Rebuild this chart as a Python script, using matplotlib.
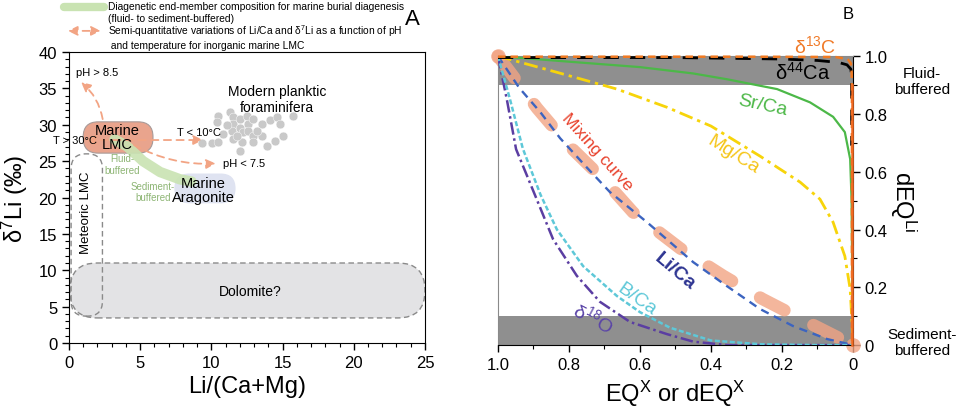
import numpy as np
import matplotlib
matplotlib.use("Agg")
import matplotlib.pyplot as plt
from matplotlib.patches import FancyBboxPatch, FancyArrowPatch
from matplotlib.lines import Line2D
from matplotlib.ticker import MultipleLocator

plt.rcParams['font.family'] = ['Liberation Sans', 'DejaVu Sans']
plt.rcParams['mathtext.fontset'] = 'custom'
plt.rcParams['mathtext.rm'] = 'Liberation Sans'
plt.rcParams['mathtext.it'] = 'Liberation Sans:italic'
plt.rcParams['mathtext.bf'] = 'Liberation Sans:bold'

# ---------------- panel A data ----------------
foram_x = [9.32, 10.02, 10.49, 10.37, 10.79, 11.31, 11.54, 11.54, 11.42, 12.01, 12.01, 12.24,
           12.48, 12.59, 12.59, 12.13, 12.01, 12.94, 12.94, 13.53, 13.53, 13.88, 14.12, 14.58,
           14.82, 14.47, 15.05, 15.75, 11.54, 13.18, 11.07, 11.78, 12.94, 10.49]
foram_y = [27.5, 27.5, 31.2, 30.4, 28.7, 31.7, 31.0, 30.1, 29.2, 30.8, 29.6, 29.0,
           31.2, 30.1, 29.2, 27.6, 26.4, 30.8, 28.5, 30.1, 28.5, 27.1, 30.6, 31.0,
           30.1, 27.8, 28.4, 31.2, 28.0, 29.2, 29.9, 28.5, 27.6, 27.6]

# burial diagenesis path (fluid- to sediment-buffered)
diag_x = [3.2, 4.1, 5.2, 6.4, 7.8, 8.6]
diag_y = [28.0, 27.0, 25.0, 23.5, 22.5, 22.2]

# field extents: x0, x1, y0, y1
lmc_box = [1.0, 5.9, 26.1, 30.4]
arag_box = [7.4, 11.7, 19.2, 23.3]
meteoric_box = [0.15, 2.35, 3.7, 26.0]
dolomite_box = [0.07, 25.0, 3.45, 11.0]

# ---------------- panel B data ----------------
li_x = [1.0, 0.94, 0.88, 0.825, 0.75, 0.685, 0.58, 0.45, 0.355, 0.262, 0.169, 0.073, 0.0]
li_y = [1.0, 0.89, 0.805, 0.716, 0.615, 0.53, 0.425, 0.287, 0.204, 0.125, 0.066, 0.021, 0.0]

mix_x = [1.0, 0.966, 0.89, 0.80, 0.70, 0.62, 0.487, 0.366, 0.254, 0.121, 0.0]
mix_y = [1.0, 0.945, 0.82, 0.69, 0.57, 0.46, 0.335, 0.24, 0.159, 0.075, 0.0]

sr_x = [1.0, 0.834, 0.6, 0.45, 0.355, 0.214, 0.121, 0.056, 0.023, 0.008, 0.004, 0.002, 0.0]
sr_y = [1.0, 0.984, 0.962, 0.94, 0.92, 0.886, 0.84, 0.79, 0.737, 0.644, 0.5, 0.2, 0.0]

mg_x = [1.0, 0.834, 0.665, 0.524, 0.40, 0.262, 0.149, 0.093, 0.056, 0.023, 0.008, 0.003, 0.0]
mg_y = [1.0, 0.944, 0.886, 0.823, 0.758, 0.654, 0.564, 0.505, 0.425, 0.308, 0.194, 0.08, 0.0]

b_x = [1.0, 0.966, 0.93, 0.88, 0.834, 0.76, 0.665, 0.60, 0.515, 0.40, 0.26, 0.1, 0.0]
b_y = [1.0, 0.85, 0.68, 0.52, 0.40, 0.273, 0.17, 0.114, 0.06, 0.016, 0.003, 0.0, 0.0]

o_x = [1.0, 0.975, 0.949, 0.891, 0.845, 0.778, 0.713, 0.628, 0.524, 0.45, 0.355, 0.0]
o_y = [1.0, 0.85, 0.678, 0.505, 0.367, 0.24, 0.15, 0.08, 0.038, 0.012, 0.0, 0.0]

ca_x = [1.0, 0.5, 0.2, 0.1, 0.04, 0.017, 0.006, 0.004, 0.004]
ca_y = [0.995, 0.995, 0.99, 0.985, 0.978, 0.97, 0.955, 0.93, 0.69]

c_x = [1.0, 0.3, 0.05, 0.015, 0.006, 0.004, 0.003, 0.003]
c_y = [0.998, 0.998, 0.997, 0.99, 0.975, 0.95, 0.9, 0.0]

salmon = '#f2a484'

fig = plt.figure(figsize=(9.58, 4.14), dpi=100)
axA = fig.add_axes([0.072, 0.169, 0.3716, 0.703])
axB = fig.add_axes([0.5198, 0.164, 0.3706, 0.698])

# ================= panel A =================
axA.set_xlim(0, 25)
axA.set_ylim(0, 40)
# keep rounded corners circular in pixels
asp = (0.3716 * 958 / 25) / (0.703 * 414 / 40)


def stadium(ax, box, r, **kw):
    x0, x1, y0, y1 = box
    p = FancyBboxPatch((x0, y0), x1 - x0, y1 - y0,
                       boxstyle="round,pad=0,rounding_size=%g" % r,
                       mutation_aspect=asp, **kw)
    ax.add_patch(p)
    return p


stadium(axA, dolomite_box, 1.9, facecolor='#e3e3e5', edgecolor='#8a8a8a',
        linestyle=(0, (4, 2.5)), linewidth=1.0, zorder=1)
stadium(axA, meteoric_box, 1.05, facecolor='none', edgecolor='#8a8a8a',
        linestyle=(0, (4, 2.5)), linewidth=1.0, zorder=2, clip_on=False)
axA.text(12.7, 7.1, 'Dolomite?', fontsize=10, ha='center', va='center', zorder=3)
axA.text(1.2, 18.0, 'Meteoric LMC', fontsize=9.5, rotation=90, ha='center', va='center', zorder=3)

stadium(axA, arag_box, 1.05, facecolor='#dfe3f1', edgecolor='none', zorder=3)
axA.plot(diag_x, diag_y, color='#c9e3b2', linewidth=7.5, solid_capstyle='round', zorder=4, alpha=0.9)
stadium(axA, lmc_box, 1.05, facecolor='#e9a48d', edgecolor='#a89a98', linewidth=0.8, zorder=3)

axA.scatter(foram_x, foram_y, s=40, color='#c9c9c9', edgecolor='white', linewidth=0.3, zorder=3)


def darrow(ax, p0, p1, rad, style='-|>'):
    a = FancyArrowPatch(p0, p1, connectionstyle="arc3,rad=%g" % rad, arrowstyle=style,
                        mutation_scale=14, color=salmon, linewidth=1.3,
                        linestyle=(0, (4, 3)), zorder=6, clip_on=False)
    ax.add_patch(a)


darrow(axA, (2.4, 30.4), (0.7, 36.1), 0.2)
darrow(axA, (1.0, 27.9), (9.6, 27.9), 0, style='<|-|>')
darrow(axA, (4.4, 27.4), (10.5, 24.7), 0.15)

axA.text(3.4, 28.3, 'Marine\nLMC', fontsize=10.5, ha='center', va='center', linespacing=1.0, zorder=7)
axA.text(9.45, 21.1, 'Marine\nAragonite', fontsize=10.5, ha='center', va='center', linespacing=1.0, zorder=7)
axA.text(14.6, 33.5, 'Modern planktic\nforaminifera', fontsize=10, ha='center', va='center', zorder=7)
axA.text(3.75, 24.6, 'Fluid-\nbuffered', fontsize=7, color='#8db574', ha='center', va='center', zorder=7)
axA.text(5.9, 20.8, 'Sediment-\nbuffered', fontsize=7, color='#8db574', ha='center', va='center', zorder=7)
axA.text(2.0, 37.2, 'pH > 8.5', fontsize=8, ha='center', va='center', zorder=7)
axA.text(9.1, 29.0, 'T < 10°C', fontsize=8, ha='center', va='center', zorder=7)
axA.text(0.4, 27.9, 'T > 30°C', fontsize=8, ha='center', va='center', zorder=7)
axA.text(12.3, 24.7, 'pH < 7.5', fontsize=8, ha='center', va='center', zorder=7)

axA.xaxis.set_major_locator(MultipleLocator(5))
axA.xaxis.set_minor_locator(MultipleLocator(1))
axA.yaxis.set_major_locator(MultipleLocator(5))
axA.yaxis.set_minor_locator(MultipleLocator(1))
axA.tick_params(which='major', direction='out', length=5, width=1, labelsize=12)
axA.tick_params(which='minor', direction='out', length=3, width=0.8)
for s in axA.spines.values():
    s.set_linewidth(0.8)
axA.set_xlabel('Li/(Ca+Mg)', fontsize=17)
axA.set_ylabel('δ$^{7}$Li (‰)', fontsize=17, labelpad=6)

# legend above panel A
fig.add_artist(Line2D([0.067, 0.109], [0.981, 0.981], transform=fig.transFigure,
                      color='#c9e3b2', linewidth=6, solid_capstyle='round'))
fig.text(0.1127, 0.969, 'Diagenetic end-member composition for marine burial diagenesis\n'
         '(fluid- to sediment-buffered)', fontsize=7.4, va='center', ha='left', linespacing=1.25)
fig.add_artist(FancyArrowPatch((0.068, 0.923), (0.108, 0.923), transform=fig.transFigure,
                               arrowstyle='<|-|>', mutation_scale=14, color=salmon,
                               linewidth=1.3, linestyle=(0, (4, 3))))
fig.text(0.1127, 0.911, 'Semi-quantitative variations of Li/Ca and δ$^{7}$Li as a function of pH\n'
         ' and temperature for inorganic marine LMC', fontsize=7.4, va='center', ha='left', linespacing=1.25)
fig.text(0.430, 0.952, 'A', fontsize=16, ha='center', va='center')

# ================= panel B =================
axB.set_xlim(1, 0)
axB.set_ylim(0, 1)
axB.axhspan(0.9, 1.0, color='#8f8f8f', zorder=0, linewidth=0)
axB.axhspan(0.0, 0.1, color='#8f8f8f', zorder=0, linewidth=0)

axB.plot(mix_x, mix_y, color=salmon, alpha=0.8, linewidth=9, dashes=(2.2, 2.6),
         dash_capstyle='round', zorder=2, clip_on=False)
axB.scatter([mix_x[0], mix_x[-1]], [mix_y[0], mix_y[-1]], s=110, color=salmon, alpha=0.8,
            linewidth=0, zorder=2, clip_on=False)
axB.plot(li_x, li_y, color='#3c64c0', linewidth=1.7, dashes=(3.5, 2.5), zorder=4)
axB.plot(sr_x, sr_y, color='#4cb848', linewidth=1.6, zorder=3)
axB.plot(mg_x, mg_y, color='#f7d40a', linewidth=2.0, dashes=(5, 1.8, 1.2, 1.8), zorder=3)
axB.plot(b_x, b_y, color='#5ec8d8', linewidth=1.8, dashes=(2, 1), zorder=4)
axB.plot(o_x, o_y, color='#5b3ea2', linewidth=1.8, dashes=(5, 1.5, 1, 1.5), zorder=3)
axB.plot(ca_x, ca_y, color='black', linewidth=2.0, dashes=(5.5, 4), zorder=4)
axB.plot(c_x, c_y, color='#f07a22', linewidth=1.8, dashes=(3, 2), zorder=5, clip_on=False)
cx = np.array(c_x)
cy = np.array(c_y)
edge = cx < 0.0035
axB.plot(cx[edge], cy[edge], color='#f26a22', linewidth=1.8, zorder=5, clip_on=False)

axB.text(0.107, 1.038, 'δ$^{13}$C', fontsize=14, color='#f07a28', ha='center', va='center')
axB.text(0.141, 0.945, 'δ$^{44}$Ca', fontsize=14.5, color='black', ha='center', va='center')
axB.text(0.254, 0.83, 'Sr/Ca', fontsize=14, color='#4db848', ha='center', va='center', rotation=-12)
axB.text(0.338, 0.66, 'Mg/Ca', fontsize=14, color='#f5c518', ha='center', va='center', rotation=-32)
axB.text(0.721, 0.671, 'Mixing curve', fontsize=12.5, color='#e8432e', ha='center', va='center', rotation=-48)
axB.text(0.501, 0.256, 'Li/Ca', fontsize=14, color='#2e3592', fontweight='bold',
         ha='center', va='center', rotation=-40)
axB.text(0.608, 0.159, 'B/Ca', fontsize=14, color='#5ec8d8', ha='center', va='center', rotation=-35)
axB.text(0.732, 0.097, 'δ$^{18}$O', fontsize=14, color='#5b45a8', ha='center', va='center', rotation=-28)

axB.yaxis.tick_right()
axB.yaxis.set_label_position('right')
axB.xaxis.set_minor_locator(MultipleLocator(0.1))
axB.yaxis.set_minor_locator(MultipleLocator(0.1))
ticks = [1.0, 0.8, 0.6, 0.4, 0.2, 0.0]
tick_labels = ['1.0', '0.8', '0.6', '0.4', '0.2', '0']
axB.set_xticks(ticks)
axB.set_xticklabels(tick_labels)
axB.set_yticks(ticks)
axB.set_yticklabels(tick_labels)
axB.tick_params(which='major', direction='out', length=5, width=1, labelsize=12)
axB.tick_params(which='minor', direction='out', length=3, width=0.8)
axB.spines['left'].set_color('#8a8a8a')
axB.spines['top'].set_color('#8a8a8a')
for s in axB.spines.values():
    s.set_linewidth(0.8)
axB.set_xlabel('EQ$^{\\mathrm{X}}$ or dEQ$^{\\mathrm{X}}$', fontsize=17)
axB.set_ylabel('dEQ$^{\\mathrm{Li}}$', fontsize=17, rotation=270, labelpad=22)

axB.text(1.194, 0.913, 'Fluid-\nbuffered', transform=axB.transAxes, fontsize=11,
         ha='center', va='center')
axB.text(1.194, 0.01, 'Sediment-\nbuffered', transform=axB.transAxes, fontsize=11,
         ha='center', va='center')
fig.text(0.885, 0.966, 'B', fontsize=12, ha='center', va='center')

fig.savefig('out.png', dpi=100)
